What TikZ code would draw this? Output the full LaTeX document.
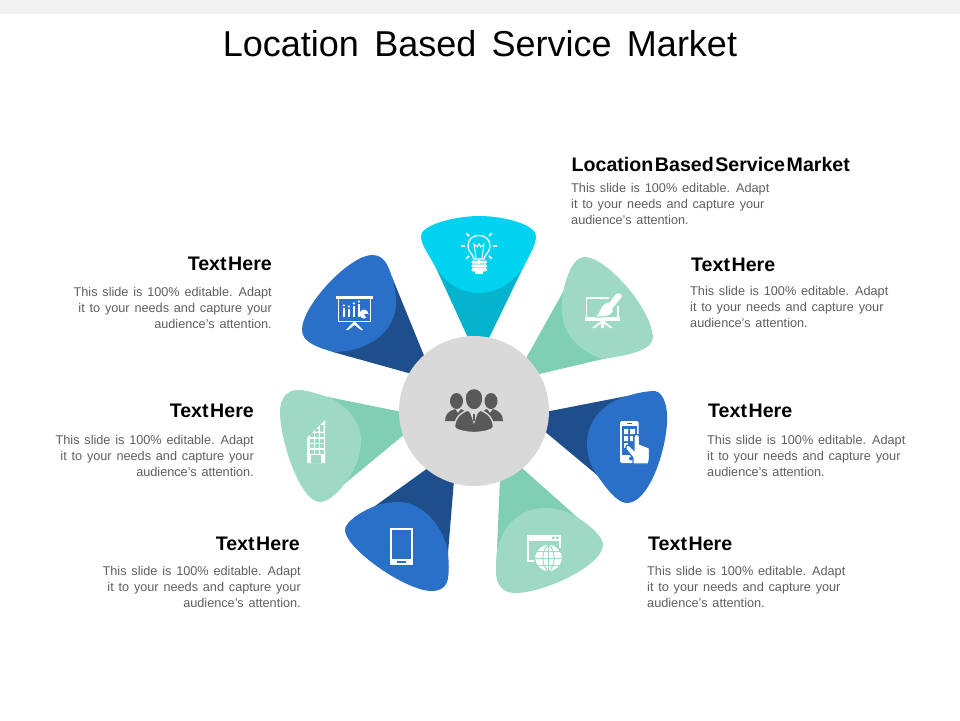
\documentclass[tikz,border=0pt]{standalone}
\usepackage{fontspec}
\setmainfont{Liberation Sans}
\definecolor{cyanL}{HTML}{00D2F0}
\definecolor{cyanD}{HTML}{05B3CD}
\definecolor{greenL}{HTML}{9DD9C5}
\definecolor{greenD}{HTML}{7FCFB5}
\definecolor{blueL}{HTML}{2A70C8}
\definecolor{blueD}{HTML}{1F4E8C}
\definecolor{hubgray}{HTML}{D9D9D9}
\definecolor{icongray}{HTML}{595959}
\definecolor{bodygray}{HTML}{5F5F5F}
\definecolor{band}{HTML}{F2F2F2}
\newcommand{\titlefont}{\fontsize{36}{36}\selectfont\spaceskip 15.3pt\relax}
\newcommand{\headfont}{\fontsize{19.6}{19.6}\selectfont\bfseries\spaceskip 1.6pt\relax}
\newcommand{\bodyfont}{\fontsize{12.7}{16}\selectfont\spaceskip 4.8pt\relax}
\tikzset{
  head/.style={inner sep=0pt,font=\headfont,text=black},
  bodytext/.style={inner sep=0pt,font=\bodyfont,text=bodygray},
  leftbody/.style={bodytext,align=left,anchor=north west},
  rightbody/.style={bodytext,align=right,anchor=north east},
  ic/.style={draw=white,line width=1.4pt,fill=none},
}
\newcommand{\bodylines}{This slide is 100\% editable. Adapt\\it to your needs and capture your\\audience's attention.}
\begin{document}
\begin{tikzpicture}[x=1pt,y=-1pt]
\useasboundingbox (0,0) rectangle (960,720);
\fill[white] (0,0) rectangle (960,720);
\fill[band] (0,0) rectangle (960,14);
\node[inner sep=0pt,font=\titlefont] (title) at (480,44) {Location Based Service Market};

% petals
\fill[cyanD] (469,340) -- (436,268) -- (523,268) -- (488,340) -- cycle;
\fill[cyanL] (436,268) .. controls (428,253) and (421,245) .. (421,236) .. controls (421,225) and (455,216) .. (479,216) .. controls (505,216) and (536,225) .. (536,236) .. controls (536,245) and (530,254) .. (523,268) .. controls (512,283) and (497,293) .. (479,293) .. controls (461,293) and (446,283) .. (436,268) -- cycle;

\fill[greenD] (525,360) -- (563,292) -- (603,359) -- (535,375) -- cycle;
\fill[greenL] (563,292) .. controls (567,275) and (573,257) .. (585,257) .. controls (605,257) and (650,305) .. (653,337) .. controls (653,350) and (630,355) .. (603,359) .. controls (580,352) and (562,335) .. (562,310) .. controls (562,303) and (562,298) .. (563,292) -- cycle;

\fill[blueD] (545,412) -- (627,396) -- (597,475) -- (543,430) -- cycle;
\fill[blueL] (627,396) .. controls (640,392) and (650,391) .. (655,391) .. controls (665,393) and (668,410) .. (667,423) .. controls (665,455) and (648,503) .. (627,503) .. controls (617,503) and (606,488) .. (597,475) .. controls (590,465) and (587,455) .. (587,443) .. controls (587,420) and (605,402) .. (627,396) -- cycle;

\fill[greenD] (500,478) -- (497,550) -- (577,517) -- (522,468) -- cycle;
\fill[greenL] (497,550) .. controls (503,525) and (520,508) .. (545,508) .. controls (555,508) and (566,511) .. (577,517) .. controls (590,526) and (603,536) .. (603,545) .. controls (603,565) and (545,593) .. (515,593) .. controls (503,593) and (496,585) .. (496,572) .. controls (496,565) and (496,558) .. (497,550) -- cycle;

\fill[blueD] (428,468) -- (375,506) -- (448,553) -- (454,480) -- cycle;
\fill[blueL] (375,506) .. controls (383,503) and (392,502) .. (400,502) .. controls (425,503) and (445,530) .. (448,553) .. controls (449,565) and (449,572) .. (448,578) .. controls (447,587) and (440,591) .. (432,591) .. controls (405,591) and (345,548) .. (345,530) .. controls (345,522) and (360,512) .. (375,506) -- cycle;

\fill[greenD] (402,412) -- (328,397) -- (337,490) -- (406,433) -- cycle;
\fill[greenL] (328,397) .. controls (345,405) and (361,420) .. (361,440) .. controls (361,457) and (354,472) .. (345,483) .. controls (338,493) and (328,502) .. (320,502) .. controls (300,502) and (280,440) .. (280,412) .. controls (280,398) and (287,390) .. (298,390) .. controls (307,390) and (318,394) .. (328,397) -- cycle;

\fill[blueD] (425,358) -- (392,277) -- (333,352) -- (412,374) -- cycle;
\fill[blueL] (392,277) .. controls (395,285) and (396,295) .. (396,303) .. controls (396,330) and (370,352) .. (333,352) .. controls (320,348) and (302,343) .. (302,330) .. controls (302,305) and (350,255) .. (372,255) .. controls (384,255) and (388,265) .. (392,277) -- cycle;

% hub
\node[circle,fill=hubgray,minimum size=150pt,inner sep=0pt] (hub) at (474,411) {};

% people icon
\fill[icongray] (456.5,401) ellipse (6.5 and 8);
\fill[icongray] (491,401) ellipse (6.5 and 8);
\fill[icongray] (445,421) .. controls (445,414) and (449,411) .. (455,409) -- (458,413) -- (461,409) .. controls (466,411) and (469,414) .. (470,421) -- cycle;
\fill[icongray] (478,421) .. controls (479,414) and (482,411) .. (487,409) -- (490,413) -- (493,409) .. controls (499,411) and (503,414) .. (503,421) -- cycle;
\draw[hubgray,line width=1.4pt,fill=icongray] (474,388.5) .. controls (479,388.5) and (483,392) .. (483,398) .. controls (483,405) and (479,410) .. (474,410) .. controls (469,410) and (465,405) .. (465,398) .. controls (465,392) and (469,388.5) .. (474,388.5) -- cycle;
\draw[hubgray,line width=1.4pt,fill=icongray] (454.5,427) .. controls (455,418) and (460,413) .. (468,410) -- (471,413) -- (474,422) -- (477,413) -- (480,410) .. controls (488,413) and (493,418) .. (493.5,427) .. controls (492,431) and (480,432.5) .. (474,432.5) .. controls (468,432.5) and (456,431) .. (454.5,427) -- cycle;
\fill[hubgray] (469.5,411) -- (474,420) -- (478.5,411) -- cycle;
\fill[icongray] (473,414) rectangle (475,421);

% bulb
\draw[ic,line width=1.3pt] (474,259) .. controls (473,254) and (468,252) .. (468,246) .. controls (468,239) and (473,235.5) .. (479,235.5) .. controls (485,235.5) and (490,239) .. (490,246) .. controls (490,252) and (485,254) .. (484,259) -- cycle;
\draw[ic,line width=1pt] (476,258) -- (474,244) -- (477,247) -- (479,244) -- (481,247) -- (484,244) -- (482,258);
\foreach \yy in {260.5,264.3,268.1}{\fill[white,rounded corners=1pt] (471.5,\yy) rectangle (487,\yy+3.2);}
\fill[white] (475,271) rectangle (483,273.5);
\foreach \aa in {90,45,135,0,180,-45,-135}{\draw[white,line width=1.5pt] (479,246)++(\aa:14) -- ++(\aa:4);}

% brush easel
\draw[ic] (609,298) -- (586.7,298) -- (586.7,318);
\draw[ic] (618,306) -- (618,318);
\fill[white] (585,317) rectangle (620,321);
\fill[white] (601,321) -- (604,321) -- (613,328) -- (610,328) -- (604,323.5) -- (604,328) -- (601,328) -- (601,323.5) -- (595,328) -- (592,328) -- cycle;
\draw[greenL,line width=1.2pt,fill=white] (615,294) .. controls (617,291.5) and (623,292.5) .. (622.5,297) -- (613,309) -- (614,311) .. controls (611,317) and (602,318) .. (594,316.5) .. controls (598,315) and (599,311) .. (600,309) .. controls (602,304) and (606,302) .. (609,302) -- cycle;

% presentation icon
\fill[white] (336,296) rectangle (373,298.5);
\draw[ic] (338.5,298) -- (338.5,321.5) -- (370.5,321.5) -- (370.5,298);
\fill[white] (346,330) -- (353.5,322) -- (355.5,322) -- (363,330) -- (361,330) -- (354.5,325) -- (348,330) -- cycle;
\foreach \xx/\yy in {343/308,348/309,353/306,358/304}{\fill[white] (\xx,\yy) rectangle (\xx+1.6,317); \fill[white] (\xx+.8,\yy-2.5) circle (1.2);}
\fill[white] (364,314) circle (4.5);
\fill[blueL] (364,314) -- (368.5,314) arc (0:60:4.5) -- cycle;

% phone with hand
\fill[white,rounded corners=1.5pt] (620,421) rectangle (638.5,463);
\fill[blueL] (622,426) rectangle (636.5,455);
\fill[white] (624,429) rectangle (628,434) (630,429) rectangle (635,434);
\fill[white] (624,436) rectangle (628,441) (630,436) rectangle (633,441);
\fill[white] (624,443) rectangle (628,448);
\fill[blueL] (631,458.5) circle (2);
\fill[blueL] (627,423) rectangle (632,424);
\draw[blueL,line width=1.2pt,fill=white] (633,464) -- (633,458) -- (626,449) .. controls (625,445) and (628,444) .. (630,446) -- (634,450) -- (634,437) .. controls (634,433.5) and (639.5,433.5) .. (639.5,437) -- (639.5,444) -- (649.5,448) -- (649.5,458) -- (648.5,464) -- cycle;

% bare phone
\draw[ic,line width=1.6pt] (390.8,528.8) rectangle (412.2,564.2);
\fill[white] (390,559) rectangle (413,565);
\fill[blueL] (397,560.5) rectangle (406,562.5);

% window and globe
\draw[ic,line width=1.7pt] (560,548) -- (560,535.8) -- (527.8,535.8) -- (527.8,561) -- (536,561);
\fill[white] (527,535) rectangle (561,541);
\fill[greenL] (552,536.5) rectangle (554.5,539) (556,536.5) rectangle (558.5,539);
\fill[white,draw=greenL,line width=1.5pt] (548.5,558) circle (14);
\draw[greenL,line width=1pt] (548.5,545) -- (548.5,571) (535,558) -- (562,558) (537,551) -- (560,551) (537,565) -- (560,565);
\draw[greenL,line width=1pt] (548.5,544.5) .. controls (541,550) and (541,566) .. (548.5,571.5);
\draw[greenL,line width=1pt] (548.5,544.5) .. controls (556,550) and (556,566) .. (548.5,571.5);

% building
\fill[white] (307,463) -- (307,438) -- (325,420) -- (325,463) -- cycle;
\foreach \yy in {433,438.5,444,449.5}{\foreach \xx in {310,315,320}{\fill[greenL] (\xx,\yy) rectangle (\xx+3.5,\yy+4);}}
\fill[greenL] (315,429) rectangle (318.5,431.5) (320,425) rectangle (323.5,431.5);
\fill[greenL] (311,455) rectangle (321,463);

% text
\node[head,anchor=west] (h0) at (571.5,164.5) {Location Based Service Market};
\node[leftbody] (b0) at (571,183.5) {\bodylines};
\node[head,anchor=west] (h1) at (691,264.5) {Text Here};
\node[leftbody] (b1) at (690,286.5) {\bodylines};
\node[head,anchor=west] (h2) at (708,410.5) {Text Here};
\node[leftbody] (b2) at (707,435.5) {\bodylines};
\node[head,anchor=west] (h3) at (648,543.5) {Text Here};
\node[leftbody] (b3) at (647,566.5) {\bodylines};
\node[head,anchor=east] (h4) at (272,263.5) {Text Here};
\node[rightbody] (b4) at (272,287.5) {\bodylines};
\node[head,anchor=east] (h5) at (254,410.5) {Text Here};
\node[rightbody] (b5) at (254,435.5) {\bodylines};
\node[head,anchor=east] (h6) at (300,543.5) {Text Here};
\node[rightbody] (b6) at (301,566.5) {\bodylines};
\end{tikzpicture}
\end{document}
